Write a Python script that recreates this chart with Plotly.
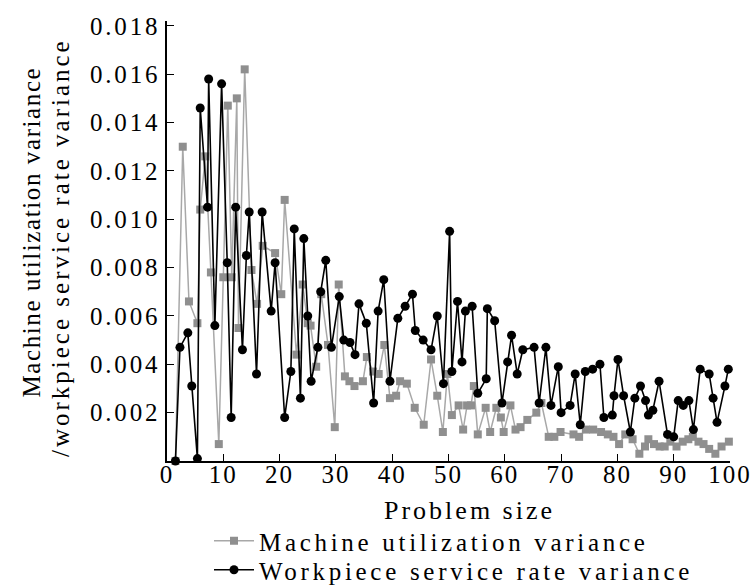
import plotly.graph_objects as go

# ---- data ----
machine_x = [1.5, 2.8, 3.9, 5.4, 5.9, 6.8, 7.8, 9.2, 10.0, 10.8,
             11.5, 12.4, 12.7, 13.8, 15.0, 16.0, 17.0, 19.2, 20.3, 20.9,
             23.0, 24.1, 25.0, 25.5, 26.5, 27.4, 28.6, 29.8, 30.5, 31.6,
             32.4, 33.3, 34.8, 35.5, 36.6, 37.6, 38.6, 39.6, 40.7, 41.4,
             42.6, 44.0, 45.6, 46.9, 48.0, 49.0, 49.8, 50.6, 51.8, 52.6,
             53.3, 54.0, 54.5, 55.2, 56.6, 57.4, 58.5, 59.3, 59.8, 61.0,
             61.9, 62.8, 64.0, 65.6, 66.5, 67.8, 68.8, 69.9, 72.2, 73.2,
             74.4, 75.7, 77.1, 78.3, 79.3, 80.3, 81.4, 82.7, 83.9, 84.9,
             85.5, 86.5, 87.5, 88.4, 89.4, 90.5, 91.6, 92.6, 93.4, 94.4,
             95.3, 96.3, 97.4, 98.5, 99.8]
machine_y = [0.0000, 0.0130, 0.0066, 0.0057, 0.0104, 0.0126, 0.0078, 0.0007, 0.0076, 0.0147,
             0.0076, 0.0150, 0.0055, 0.0162, 0.0079, 0.0065, 0.0089, 0.0086, 0.0069, 0.0108,
             0.0044, 0.0073, 0.0057, 0.0056, 0.0039, 0.0069, 0.0048, 0.0014, 0.0073, 0.0035,
             0.0033, 0.0031, 0.0033, 0.0043, 0.0037, 0.0036, 0.0048, 0.0026, 0.0027, 0.0033,
             0.0032, 0.0022, 0.0015, 0.0042, 0.0027, 0.0012, 0.0036, 0.0019, 0.0023, 0.0013,
             0.0023, 0.0023, 0.0031, 0.0011, 0.0022, 0.0012, 0.0022, 0.0018, 0.0012, 0.0023,
             0.0013, 0.0014, 0.0017, 0.0020, 0.0024, 0.0010, 0.0010, 0.0012, 0.0011, 0.0010,
             0.0013, 0.0013, 0.0012, 0.0011, 0.0010, 0.0007, 0.0011, 0.0009, 0.0003, 0.0006,
             0.0009, 0.0007, 0.0006, 0.0006, 0.0008, 0.0006, 0.0008, 0.0009, 0.0010, 0.0008,
             0.0007, 0.0005, 0.0003, 0.0006, 0.0008]

workpiece_x = [1.5, 2.3, 3.7, 4.4, 5.4, 5.9, 7.2, 7.4, 8.5, 9.7,
               10.7, 11.4, 12.2, 13.4, 14.1, 14.6, 15.9, 16.9, 18.5, 19.2,
               20.9, 22.0, 22.6, 23.7, 24.3, 25.0, 25.6, 26.8, 27.3, 28.2,
               29.2, 30.6, 31.4, 32.5, 33.4, 34.1, 35.4, 36.7, 37.5, 38.5,
               39.6, 41.0, 42.3, 43.6, 44.1, 45.5, 46.9, 48.0, 49.1, 50.2,
               50.6, 51.6, 52.4, 53.0, 54.2, 55.2, 56.7, 56.9, 58.2, 59.5,
               60.5, 61.2, 62.2, 63.2, 65.2, 66.1, 67.3, 68.2, 69.5, 70.0,
               71.6, 72.5, 73.4, 74.3, 75.6, 76.9, 77.6, 79.1, 79.4, 80.1,
               81.1, 82.3, 83.1, 84.1, 85.0, 85.5, 86.3, 87.4, 88.9, 90.0,
               90.8, 91.7, 92.7, 93.5, 94.7, 96.3, 97.0, 97.7, 99.1, 99.7]
workpiece_y = [0.0000, 0.0047, 0.0053, 0.0031, 0.0001, 0.0146, 0.0105, 0.0158, 0.0056, 0.0156,
               0.0082, 0.0018, 0.0105, 0.0046, 0.0085, 0.0103, 0.0036, 0.0103, 0.0062, 0.0082,
               0.0018, 0.0037, 0.0096, 0.0026, 0.0092, 0.0060, 0.0033, 0.0047, 0.0070, 0.0083,
               0.0047, 0.0068, 0.0050, 0.0049, 0.0044, 0.0065, 0.0057, 0.0024, 0.0062, 0.0075,
               0.0033, 0.0059, 0.0064, 0.0069, 0.0054, 0.0050, 0.0046, 0.0060, 0.0032, 0.0095,
               0.0037, 0.0066, 0.0041, 0.0062, 0.0064, 0.0028, 0.0034, 0.0063, 0.0058, 0.0024,
               0.0041, 0.0052, 0.0036, 0.0046, 0.0047, 0.0024, 0.0047, 0.0023, 0.0039, 0.0020,
               0.0023, 0.0036, 0.0015, 0.0037, 0.0038, 0.0040, 0.0018, 0.0019, 0.0027, 0.0042,
               0.0027, 0.0012, 0.0026, 0.0031, 0.0025, 0.0019, 0.0021, 0.0033, 0.0011, 0.0010,
               0.0025, 0.0023, 0.0025, 0.0013, 0.0038, 0.0036, 0.0026, 0.0016, 0.0031, 0.0038]

x_tick_values = [0, 10, 20, 30, 40, 50, 60, 70, 80, 90, 100]
x_tick_labels = ["0", "10", "20", "30", "40", "50", "60", "70", "80", "90", "100"]
y_tick_values = [0.002, 0.004, 0.006, 0.008, 0.010, 0.012, 0.014, 0.016, 0.018]
y_tick_labels = ["0.002", "0.004", "0.006", "0.008", "0.010", "0.012", "0.014", "0.016", "0.018"]

series_names = ["Machine utilization variance", "Workpiece service rate variance"]
x_title = "Problem size"
y_title_lines = ["Machine utilization variance", "/workpiece service rate variance"]

FONT = "Liberation Serif, Times New Roman, serif"


def spaced(s, px):
    return f'<span style="letter-spacing:{px}px">{s}</span>'


fig = go.Figure()
fig.add_trace(go.Scatter(
    x=machine_x, y=machine_y, mode="lines+markers",
    name=spaced(series_names[0], 3.7),
    line=dict(color="#a8a8a8", width=1.5),
    marker=dict(symbol="square", size=8, color="#8f8f8f"),
    cliponaxis=False, legend="legend",
))
fig.add_trace(go.Scatter(
    x=workpiece_x, y=workpiece_y, mode="lines+markers",
    name=spaced(series_names[1], 3.7),
    line=dict(color="#000000", width=1.6),
    marker=dict(symbol="circle", size=9, color="#000000"),
    cliponaxis=False, legend="legend2",
))

W, H = 751, 585
ML, MR, MT, MB = 167, 21, 21, 124
PW, PH = W - ML - MR, H - MT - MB


def px_x(px):
    return (px - ML) / PW


def px_y(py):
    return (H - MB - py) / PH


axis_common = dict(
    showline=True, linecolor="black", linewidth=1.5, mirror=False,
    ticks="inside", ticklen=7, tickwidth=1.2, tickcolor="black",
    showgrid=False, zeroline=False, ticklabeloverflow="allow",
    tickfont=dict(family=FONT, size=25, color="black"),
)

fig.update_layout(
    width=W, height=H,
    margin=dict(l=ML, r=MR, t=MT, b=MB, pad=0, autoexpand=False),
    paper_bgcolor="white", plot_bgcolor="white",
    font=dict(family=FONT, size=25, color="black"),
    xaxis=dict(range=[0, 100], tickmode="array", tickvals=x_tick_values,
               ticktext=[spaced(t, 2) for t in x_tick_labels],
               ticklabelstandoff=-10, **axis_common),
    yaxis=dict(range=[0, 0.0182], tickmode="array", tickvals=y_tick_values,
               ticktext=[spaced(t, 2.8) for t in y_tick_labels], **axis_common),
    legend=dict(x=px_x(209), y=px_y(541), xanchor="left", yanchor="middle",
                font=dict(family=FONT, size=25, color="black"),
                bgcolor="rgba(0,0,0,0)", borderwidth=0, itemwidth=40),
    legend2=dict(x=px_x(209), y=px_y(570), xanchor="left", yanchor="middle",
                 font=dict(family=FONT, size=25, color="black"),
                 bgcolor="rgba(0,0,0,0)", borderwidth=0, itemwidth=40),
    showlegend=True,
    annotations=[
        dict(text=spaced(x_title, 3), xref="paper", yref="paper",
             x=px_x(469), y=px_y(511), xanchor="center", yanchor="middle",
             showarrow=False, font=dict(family=FONT, size=26, color="black")),
        dict(text=spaced(y_title_lines[0], 1.6), xref="paper", yref="paper",
             x=px_x(31.5), y=px_y(232), xanchor="center", yanchor="middle",
             textangle=-90, showarrow=False,
             font=dict(family=FONT, size=25, color="black")),
        dict(text=spaced(y_title_lines[1], 3.0), xref="paper", yref="paper",
             x=px_x(61), y=px_y(248), xanchor="center", yanchor="middle",
             textangle=-90, showarrow=False,
             font=dict(family=FONT, size=25, color="black")),
    ],
)

fig.write_html("out.html")
